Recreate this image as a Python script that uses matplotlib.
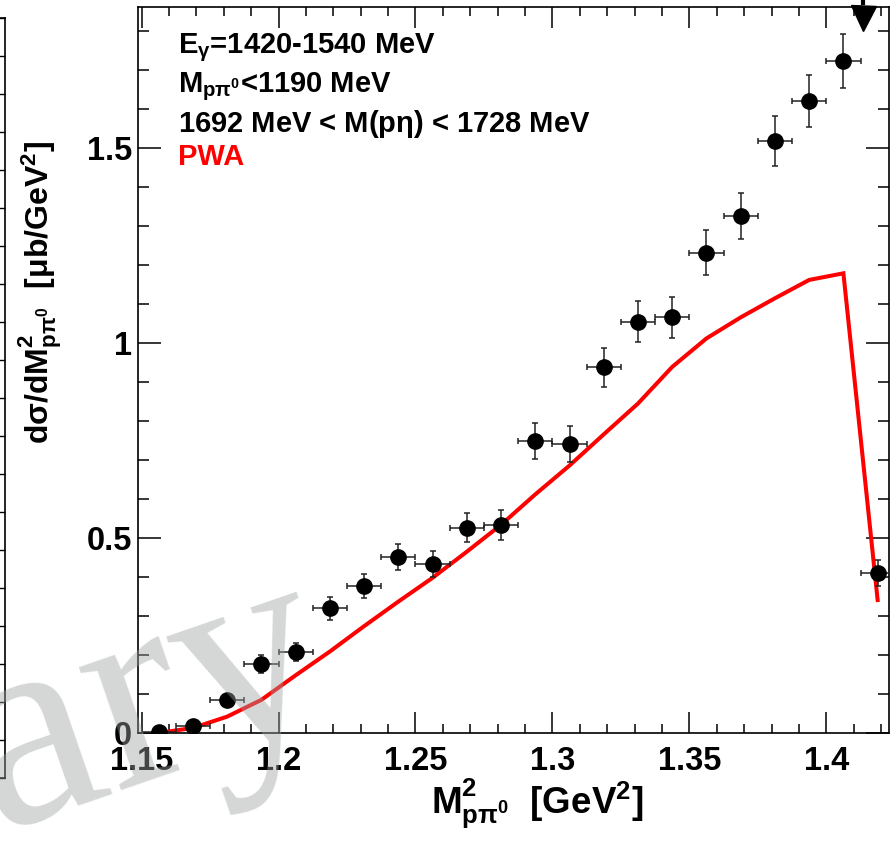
import numpy as np
import matplotlib
matplotlib.use("Agg")
import matplotlib.pyplot as plt
from matplotlib.ticker import MultipleLocator

# ---------------- data ----------------
bin_centers = [1.15625, 1.16875, 1.18125, 1.19375, 1.20625, 1.21875, 1.23125,
               1.24375, 1.25625, 1.26875, 1.28125, 1.29375, 1.30625, 1.31875,
               1.33125, 1.34375, 1.35625, 1.36875, 1.38125, 1.39375, 1.40625,
               1.41875]
data_vals = [0.003, 0.018, 0.085, 0.177, 0.208, 0.320, 0.377, 0.452, 0.434,
             0.527, 0.533, 0.749, 0.742, 0.938, 1.055, 1.066, 1.232, 1.326,
             1.519, 1.621, 1.723, 0.411]
data_err = [0.005, 0.010, 0.015, 0.024, 0.024, 0.030, 0.031, 0.034, 0.034,
            0.038, 0.038, 0.046, 0.046, 0.050, 0.053, 0.053, 0.058, 0.059,
            0.064, 0.067, 0.069, 0.033]
bin_half_width = 0.00625
pwa_vals = [0.0, 0.013, 0.042, 0.085, 0.148, 0.209, 0.274, 0.337, 0.398,
            0.465, 0.534, 0.612, 0.686, 0.766, 0.845, 0.939, 1.012, 1.066,
            1.115, 1.162, 1.179, 0.341]
arrow_x = 1.4135
arrow_tip = 1.803
x_major = [1.15, 1.2, 1.25, 1.3, 1.35, 1.4]
x_labels = ["1.15", "1.2", "1.25", "1.3", "1.35", "1.4"]
y_major = [0, 0.5, 1.0, 1.5]
y_labels = ["0", "0.5", "1", "1.5"]
info_lines = [r"E$_{\gamma}$=1420-1540 MeV",
              r"M$_{\mathrm{p\pi^0}}$<1190 MeV",
              r"1692 MeV < M(p$\eta$) < 1728 MeV"]
legend_label = "PWA"

# ---------------- style ----------------
plt.rcParams['font.family'] = ['Liberation Sans', 'DejaVu Sans']
plt.rcParams['mathtext.fontset'] = 'custom'
plt.rcParams['mathtext.rm'] = 'Liberation Sans:bold'
plt.rcParams['mathtext.it'] = 'Liberation Sans:bold'
plt.rcParams['mathtext.bf'] = 'Liberation Sans:bold'
plt.rcParams['mathtext.sf'] = 'Liberation Sans:bold'

W, H = 896, 852
fig = plt.figure(figsize=(W / 100, H / 100), dpi=100)

def px_rect(l, t, r, b):
    return [l / W, (H - b) / H, (r - l) / W, (b - t) / H]

# neighbouring panel's right frame (partially visible at the left edge)
nb = fig.add_axes(px_rect(-400, 18, 4.5, 778))
nb.set_xlim(0, 1)
nb.set_ylim(0, 20)
nb.spines['left'].set_visible(False)
for s in ['right', 'top', 'bottom']:
    nb.spines[s].set_linewidth(1.2)
nb.set_xticks([])
nb.yaxis.tick_right()
nb.set_yticks(np.arange(0, 21, 1))
nb.tick_params(axis='y', direction='in', length=8, width=1.0, labelright=False)
nb.patch.set_alpha(0)

ax = fig.add_axes(px_rect(138, 7, 889, 733))
ax.set_xlim(1.1487, 1.4229)
ax.set_ylim(0, 1.862)

# PWA curve
ax.plot(bin_centers, pwa_vals, color='#ff0000', lw=2.9, zorder=2,
        solid_joinstyle='miter')

# data points
ax.errorbar(bin_centers, data_vals, yerr=data_err, xerr=bin_half_width,
            fmt='o', color='black', ecolor='#222222', elinewidth=1.1,
            capsize=2.2, capthick=1.1, markersize=11, zorder=3)

# arrow at top: stem + downward triangle
px_per_unit = 390.0
ax.plot([arrow_x, arrow_x], [arrow_tip + 25 / px_per_unit, 1.95],
        color='black', lw=3, clip_on=False, zorder=4, solid_capstyle='butt')
ax.plot([arrow_x], [arrow_tip + 12.5 / px_per_unit], marker='v',
        markersize=18, color='black', clip_on=False, zorder=4, lw=0)

# ticks
ax.set_xticks(x_major)
ax.set_xticklabels(x_labels)
ax.xaxis.set_minor_locator(MultipleLocator(0.01))
ax.set_yticks(y_major)
ax.set_yticklabels(y_labels)
ax.yaxis.set_minor_locator(MultipleLocator(0.1))
ax.tick_params(axis='both', which='both', direction='in', top=True, right=True,
               width=1.1, labelsize=23.5)
ax.tick_params(axis='x', which='major', length=15, pad=9)
ax.tick_params(axis='x', which='minor', length=6.5)
ax.tick_params(axis='y', which='major', length=16.5, pad=4.5)
ax.tick_params(axis='y', which='minor', length=8)
for lab in ax.get_xticklabels() + ax.get_yticklabels():
    lab.set_fontweight('bold')
for s in ax.spines.values():
    s.set_linewidth(1.2)

# info text
ys = [53, 92, 132]
for txt, yb in zip(info_lines, ys):
    fig.text(178 / W, (H - yb) / H, txt, fontsize=21, fontweight='bold',
             ha='left', va='baseline', color='black')
fig.text(178 / W, (H - 165) / H, legend_label, fontsize=21, fontweight='bold',
         ha='left', va='baseline', color='#ff0000')

# axis titles
fig.text(537 / W, (H - 813) / H, r"M$^{2}_{\mathrm{p\pi^0}}$  [GeV$^{2}$]",
         fontsize=26.5, fontweight='bold', ha='center', va='baseline')
fig.text(40 / W, (H - 293) / H,
         r"d$\sigma$/dM$^{2}_{\mathrm{p\pi^0}}$  [$\mu$b/GeV$^{2}$]",
         fontsize=23, fontweight='bold', ha='center', va='center', rotation=90)

# watermark
fig.text(-4 / W, (H - 830) / H, "ary", fontsize=205, family='Liberation Serif',
         color=(0.62, 0.63, 0.63), alpha=0.43, rotation=19,
         rotation_mode='anchor', ha='left', va='baseline', zorder=10)

fig.savefig("out.png", dpi=100)
